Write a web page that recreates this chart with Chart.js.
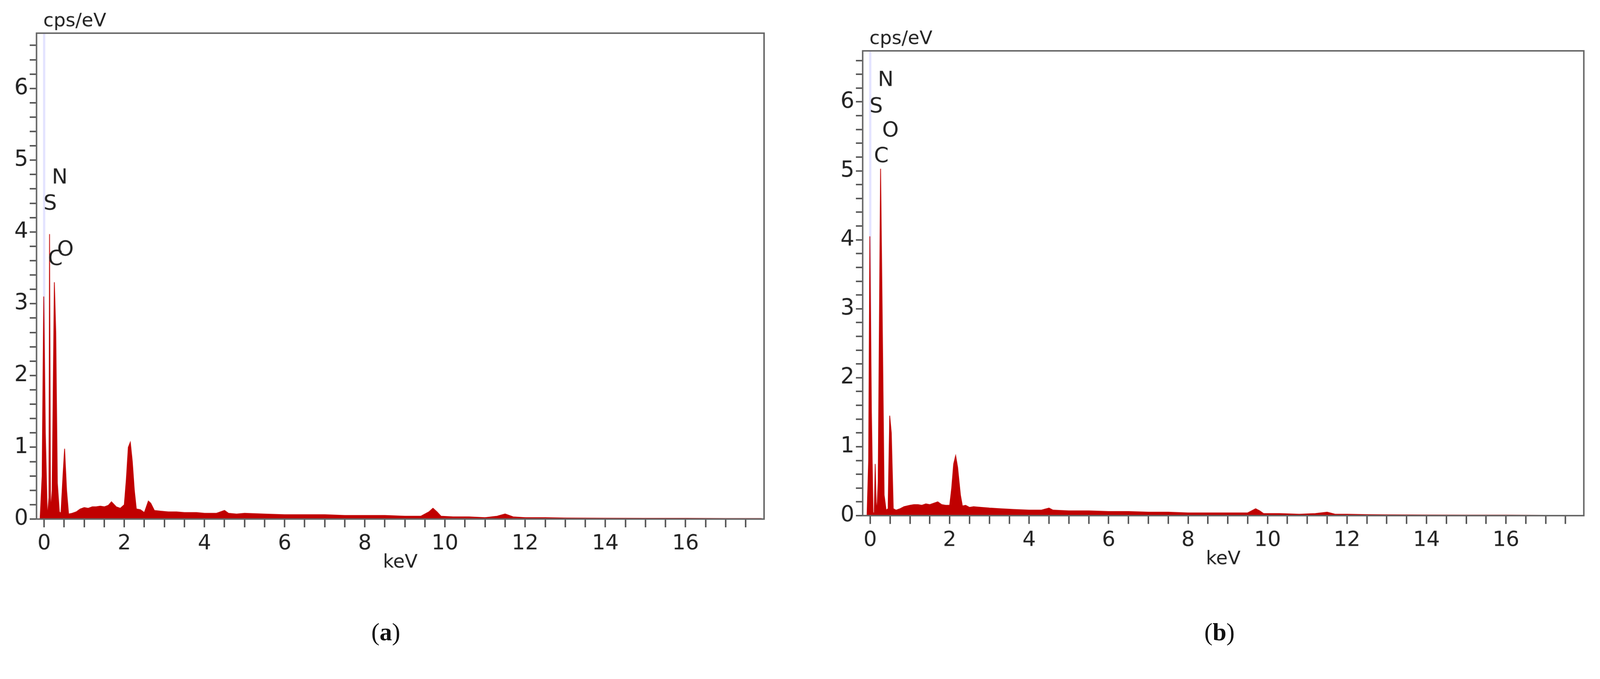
<!DOCTYPE html>
<html><head><meta charset="utf-8">
<script src="https://cdn.jsdelivr.net/npm/chart.js@4/dist/chart.umd.min.js"></script>
<style>
html,body{margin:0;padding:0;background:#fff;overflow:hidden}
#wrap{position:absolute;left:0;top:0;width:4251px;height:1737px;transform-origin:0 0;background:#fff}
canvas{position:absolute;top:0}
.cap{position:absolute;top:1640px;font-family:"Liberation Serif",serif;font-size:66px;color:#111;transform:translateX(-50%)}
</style></head><body>
<div id="wrap">
<canvas id="ca" style="left:0" width="2125" height="1737"></canvas>
<canvas id="cb" style="left:2125px" width="2126" height="1737"></canvas>
<div class="cap" style="left:1025px">(<b>a</b>)</div>
<div class="cap" style="left:3240px">(<b>b</b>)</div>
</div>
<script>
// spectrum (a): [keV, cps/eV]
const spectrumA = [[-0.1,0],[-0.05,0.6],[-0.01,3.1],[0.03,1.2],[0.08,0.02],[0.12,0.3],[0.135,3.97],[0.16,0.1],[0.2,0.4],[0.255,3.3],[0.29,2.6],[0.33,0.5],[0.38,0.1],[0.42,0.08],[0.47,0.6],[0.51,0.98],[0.56,0.4],[0.61,0.07],[0.7,0.08],[0.8,0.1],[0.9,0.14],[1.0,0.16],[1.1,0.15],[1.2,0.17],[1.3,0.17],[1.4,0.18],[1.5,0.17],[1.6,0.19],[1.68,0.24],[1.8,0.17],[1.9,0.15],[2.0,0.2],[2.05,0.55],[2.1,1.0],[2.15,1.07],[2.2,0.8],[2.25,0.4],[2.3,0.14],[2.4,0.13],[2.5,0.09],[2.6,0.25],[2.66,0.22],[2.75,0.12],[2.9,0.11],[3.1,0.1],[3.3,0.1],[3.5,0.09],[3.8,0.09],[4.0,0.08],[4.3,0.08],[4.5,0.12],[4.6,0.08],[4.8,0.07],[5.0,0.08],[5.5,0.07],[6.0,0.06],[6.5,0.06],[7.0,0.06],[7.5,0.05],[8.0,0.05],[8.5,0.05],[9.0,0.04],[9.4,0.04],[9.6,0.1],[9.7,0.15],[9.8,0.1],[9.9,0.04],[10.2,0.03],[10.6,0.03],[11.0,0.02],[11.3,0.04],[11.5,0.07],[11.7,0.03],[12.0,0.02],[12.5,0.02],[13.0,0.015],[14.0,0.012],[15.0,0.01],[16.0,0.01],[17.0,0.008],[17.9,0.008]];
// spectrum (b): [keV, cps/eV]
const spectrumB = [[-0.08,0],[-0.04,0.8],[-0.01,4.05],[0.03,1.5],[0.07,0.05],[0.1,0.02],[0.125,0.75],[0.15,0.2],[0.17,0.05],[0.2,0.5],[0.24,3.5],[0.26,5.03],[0.3,3.0],[0.35,0.3],[0.4,0.08],[0.45,0.1],[0.49,1.45],[0.53,1.2],[0.58,0.1],[0.65,0.08],[0.75,0.1],[0.85,0.13],[1.0,0.15],[1.1,0.16],[1.2,0.16],[1.3,0.15],[1.4,0.17],[1.5,0.16],[1.6,0.18],[1.7,0.2],[1.8,0.16],[1.9,0.15],[2.0,0.15],[2.05,0.4],[2.1,0.75],[2.15,0.87],[2.2,0.7],[2.27,0.3],[2.32,0.14],[2.4,0.15],[2.5,0.12],[2.6,0.13],[2.8,0.12],[3.0,0.11],[3.3,0.1],[3.6,0.09],[4.0,0.08],[4.3,0.08],[4.5,0.11],[4.6,0.08],[5.0,0.07],[5.5,0.07],[6.0,0.06],[6.5,0.06],[7.0,0.05],[7.5,0.05],[8.0,0.04],[8.5,0.04],[9.0,0.04],[9.5,0.04],[9.7,0.1],[9.8,0.07],[9.9,0.03],[10.3,0.03],[10.8,0.02],[11.2,0.03],[11.5,0.05],[11.7,0.02],[12.0,0.02],[12.5,0.015],[13.0,0.012],[14.0,0.01],[15.0,0.008],[16.0,0.008],[17.0,0.006],[17.9,0.006]];
// element labels: [text, keV, cps/eV]
const labelsA = [["S",0.15,4.39],["N",0.39,4.75],["C",0.28,3.62],["O",0.53,3.75]];
const labelsB = [["N",0.39,6.31],["S",0.15,5.93],["O",0.51,5.58],["C",0.28,5.21]];
const xTicksMajor = [0,2,4,6,8,10,12,14,16];
const yTicksMajor = [0,1,2,3,4,5,6];

const wrap = document.getElementById('wrap');
const sc = Math.min(window.innerWidth/4251, window.innerHeight/1737);
if (sc < 0.999) wrap.style.transform = 'scale(' + sc + ')';

const FONT = '"DejaVu Sans", sans-serif';
function makeTicks(min, max, step){ const a=[]; for(let v=Math.ceil(min/step)*step; v<=max+1e-9; v+=step) a.push({value:Math.round(v*100)/100}); return a; }
const overlay = (labels)=>({
  id:'ov',
  beforeDatasetsDraw(c){ const ctx=c.ctx, x=c.scales.x, a=c.chartArea; const px=x.getPixelForValue(0);
    ctx.save(); ctx.strokeStyle='rgba(200,200,255,0.5)'; ctx.lineWidth=6; ctx.beginPath(); ctx.moveTo(px,a.top); ctx.lineTo(px,a.bottom); ctx.stroke(); ctx.restore(); },
  afterDraw(c){ const ctx=c.ctx, x=c.scales.x, y=c.scales.y, a=c.chartArea;
    ctx.save(); ctx.strokeStyle='#666'; ctx.lineWidth=4; ctx.strokeRect(a.left,a.top,a.right-a.left,a.bottom-a.top);
    ctx.fillStyle='#222'; ctx.font='50px '+FONT; ctx.textAlign='left'; ctx.textBaseline='bottom';
    ctx.fillText('cps/eV', a.left+18, a.top-6);
    ctx.font='56px '+FONT; ctx.textAlign='center'; ctx.textBaseline='middle';
    labels.forEach(l=>ctx.fillText(l[0], x.getPixelForValue(l[1]), y.getPixelForValue(l[2])));
    ctx.restore(); }
});
function build(id, data, labels, pad, ymax){
  new Chart(document.getElementById(id), {
    type:'scatter',
    data:{datasets:[{data:data.map(p=>({x:p[0],y:p[1]})), showLine:true, fill:'origin', borderColor:'#c00000', backgroundColor:'#c00000', borderWidth:2, pointRadius:0, tension:0}]},
    options:{responsive:false, animation:false, devicePixelRatio:1,
      layout:{padding:pad},
      plugins:{legend:{display:false}, tooltip:{enabled:false}},
      scales:{
        x:{type:'linear', min:-0.19, max:17.96,
          afterBuildTicks:s=>{s.ticks=makeTicks(-0.19,17.96,0.5);},
          afterFit:s=>{s.height=150;},
          grid:{drawOnChartArea:false, drawTicks:true, tickLength:22, color:'#555', lineWidth:4},
          border:{display:true, color:'#666', width:4},
          ticks:{autoSkip:false, maxRotation:0, padding:10, color:'#222', font:{family:FONT, size:56},
            callback:v=>xTicksMajor.includes(v)?String(v):''},
          title:{display:true, text:'keV', color:'#222', font:{family:FONT, size:50}, padding:{top:0}}},
        y:{type:'linear', min:0, max:ymax,
          afterBuildTicks:s=>{s.ticks=makeTicks(0,ymax,0.2);},
          afterFit:s=>{s.width=pad.yw;},
          grid:{drawOnChartArea:false, drawTicks:true, tickLength:18, color:'#555', lineWidth:4},
          border:{display:true, color:'#666', width:4},
          ticks:{autoSkip:false, padding:4, color:'#222', font:{family:FONT, size:58},
            callback:v=>(Math.abs(v-Math.round(v))<1e-6 && yTicksMajor.includes(Math.round(v)))?String(Math.round(v)):''}}
      }},
    plugins:[overlay(labels)]
  });
}
build('ca', spectrumA, labelsA, {left:0, right:95, top:88, bottom:209, yw:97}, 6.77);
build('cb', spectrumB, labelsB, {left:0, right:43, top:135, bottom:218, yw:167}, 6.74);
</script></body></html>
